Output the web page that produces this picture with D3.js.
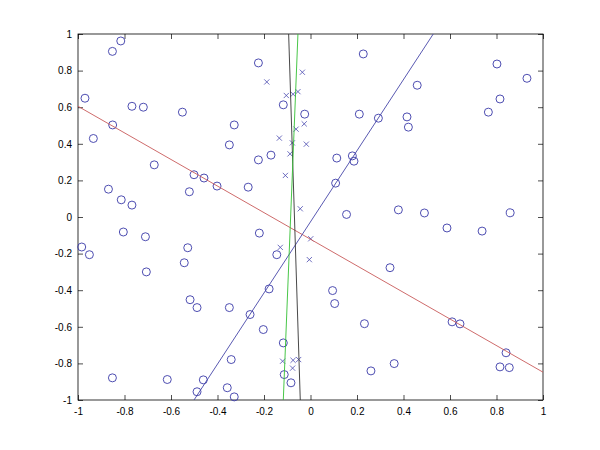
<!DOCTYPE html>
<html>
<head>
<meta charset="utf-8">
<script src="https://d3js.org/d3.v7.min.js"></script>
<style>
  body { margin: 0; background: #fff; }
  svg text { font-family: "Liberation Sans", Arial, sans-serif; font-size: 10px; fill: #000; }
</style>
</head>
<body>
<svg id="chart" width="600" height="450"></svg>
<script>
// circle markers (class 1)
const circleX = [-0.970, -0.852, -0.816, -0.934, -0.851, -0.768, -0.719, -0.551, -0.672, -0.869,
  -0.814, -0.768, -0.521, -0.501, -0.458, -0.402, -0.349, -0.328, -0.268, -0.224,
  -0.224, -0.170, -0.117, -0.025, 0.113, 0.108, -0.220, -0.145, -0.178, 0.095,
  0.104, -0.260, -0.203, -0.117, -0.113, -0.084, 0.227, 0.459, 0.210, 0.292,
  0.415, 0.421, 0.180, 0.187, 0.802, 0.931, 0.815, 0.765, 0.155, 0.378,
  0.490, 0.859, 0.587, 0.738, 0.342, 0.232, 0.609, 0.643, 0.841, 0.815,
  0.855, 0.360, 0.260, -0.984, -0.951, -0.805, -0.710, -0.706, -0.528, -0.543,
  -0.518, -0.488, -0.349, -0.341, -0.616, -0.852, -0.461, -0.488, -0.358, -0.328];
const circleY = [0.649, 0.905, 0.962, 0.429, 0.503, 0.605, 0.600, 0.573, 0.285, 0.152,
  0.094, 0.065, 0.138, 0.231, 0.213, 0.169, 0.394, 0.503, 0.163, 0.842,
  0.312, 0.338, 0.613, 0.562, 0.322, 0.185, -0.088, -0.206, -0.393, -0.402,
  -0.473, -0.533, -0.615, -0.688, -0.861, -0.906, 0.891, 0.720, 0.562, 0.540,
  0.547, 0.491, 0.334, 0.305, 0.836, 0.758, 0.645, 0.573, 0.014, 0.039,
  0.022, 0.023, -0.060, -0.077, -0.277, -0.583, -0.573, -0.584, -0.742, -0.819,
  -0.823, -0.801, -0.841, -0.164, -0.206, -0.082, -0.108, -0.300, -0.168, -0.250,
  -0.452, -0.495, -0.495, -0.779, -0.888, -0.879, -0.890, -0.955, -0.933, -0.983];

// cross markers (class 2)
const crossX = [-0.188, -0.035, -0.104, -0.075, -0.054, -0.062, -0.027, -0.018, -0.134, -0.078,
  -0.088, -0.108, -0.044, 0.001, -0.130, -0.005, -0.120, -0.075, -0.051, -0.077];
const crossY = [0.738, 0.791, 0.664, 0.671, 0.685, 0.480, 0.509, 0.398, 0.431, 0.405,
  0.345, 0.227, 0.045, -0.119, -0.166, -0.233, -0.788, -0.783, -0.779, -0.826];

// straight lines as [x1, y1, x2, y2]
const redLine = [-1, 0.605, 1, -0.848];
const blueLine = [-0.501, -1, 0.528, 1];
const blackLine = [-0.094, 1, -0.044, -1];
const greenLine = [-0.054, 1, -0.117, -1];

const xTicks = d3.range(-1, 1.0001, 0.2);
const yTicks = d3.range(-1, 1.0001, 0.2);

const svg = d3.select("#chart");
const margin = { left: 78, right: 57, top: 34, bottom: 50 };
const width = 600, height = 450;

const x = d3.scaleLinear().domain([-1, 1]).range([margin.left, width - margin.right]);
const y = d3.scaleLinear().domain([-1, 1]).range([height - margin.bottom, margin.top]);

const fmt = v => {
  const r = Math.round(v * 10) / 10;
  return r === 0 ? "0" : String(r);
};

// axes with inward ticks, box on all sides
svg.append("g")
  .attr("transform", `translate(0,${y(-1)})`)
  .call(d3.axisBottom(x).tickValues(xTicks).tickFormat(fmt).tickSizeInner(-5).tickSizeOuter(0).tickPadding(8))
  .call(g => g.select(".domain").remove());
svg.append("g")
  .attr("transform", `translate(0,${y(1)})`)
  .call(d3.axisTop(x).tickValues(xTicks).tickFormat("").tickSizeInner(-5).tickSizeOuter(0))
  .call(g => g.select(".domain").remove());
svg.append("g")
  .attr("transform", `translate(${x(-1)},0)`)
  .call(d3.axisLeft(y).tickValues(yTicks).tickFormat(fmt).tickSizeInner(-5).tickSizeOuter(0).tickPadding(6))
  .call(g => g.select(".domain").remove());
svg.append("g")
  .attr("transform", `translate(${x(1)},0)`)
  .call(d3.axisRight(y).tickValues(yTicks).tickFormat("").tickSizeInner(-5).tickSizeOuter(0))
  .call(g => g.select(".domain").remove());

svg.selectAll(".tick line").attr("stroke", "#000").attr("stroke-width", 0.7);
svg.selectAll(".tick text").style("font-size", "10px");

svg.append("rect")
  .attr("x", x(-1)).attr("y", y(1))
  .attr("width", x(1) - x(-1)).attr("height", y(-1) - y(1))
  .attr("fill", "none").attr("stroke", "#000").attr("stroke-width", 0.8);

const plot = svg.append("g");

// markers
plot.selectAll(".circ")
  .data(circleX.map((v, i) => [v, circleY[i]]))
  .join("circle")
  .attr("cx", d => x(d[0]))
  .attr("cy", d => y(d[1]))
  .attr("r", 4)
  .attr("fill", "none")
  .attr("stroke", "#3a3aa8")
  .attr("stroke-width", 0.9);

const crosses = crossX.map((v, i) => [v, crossY[i]]);
plot.selectAll(".cross")
  .data(crosses)
  .join("path")
  .attr("d", d => {
    const cx = x(d[0]), cy = y(d[1]), s = 2.6;
    return `M${cx - s},${cy - s}L${cx + s},${cy + s}M${cx - s},${cy + s}L${cx + s},${cy - s}`;
  })
  .attr("stroke", "#4a4ab0")
  .attr("stroke-width", 0.8)
  .attr("fill", "none");

// lines
const lines = [
  { seg: redLine, color: "#c85a5a" },
  { seg: blueLine, color: "#4646a8" },
  { seg: blackLine, color: "#333333" },
  { seg: greenLine, color: "#33c033" }
];
plot.selectAll(".ln")
  .data(lines)
  .join("line")
  .attr("x1", d => x(d.seg[0]))
  .attr("y1", d => y(d.seg[1]))
  .attr("x2", d => x(d.seg[2]))
  .attr("y2", d => y(d.seg[3]))
  .attr("stroke", d => d.color)
  .attr("stroke-width", 0.9);
</script>
</body>
</html>
